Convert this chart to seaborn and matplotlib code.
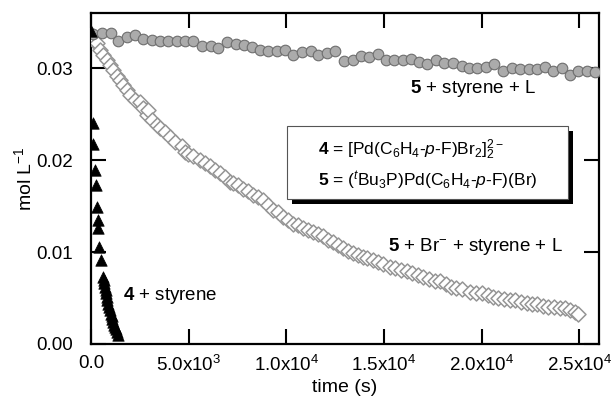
import matplotlib

matplotlib.use("Agg")
import matplotlib.pyplot as plt
import pandas as pd
import seaborn as sns
from matplotlib.patches import Rectangle

# 5 + styrene + L (grey circles)
circle_t = [120, 546, 1024, 1400, 1826, 2253, 2680, 3106, 3533, 3960, 4386, 4813, 5240,
            5666, 6144, 6520, 6946, 7407, 7851, 8226, 8653, 9080, 9506, 9933, 10360,
            10786, 11264, 11640, 12066, 12493, 12954, 13398, 13808, 14250, 14710, 15104,
            15514, 15958, 16368, 16810, 17219, 17664, 18074, 18518, 18978, 19371, 19780,
            20224, 20634, 21078, 21539, 21965, 22392, 22818, 23245, 23638, 24098, 24525,
            24950, 25378, 25805]
circle_c = [0.0337, 0.0338, 0.0338, 0.0330, 0.0334, 0.0336, 0.0332, 0.0331, 0.0330, 0.0330,
            0.0330, 0.0330, 0.0330, 0.0324, 0.0324, 0.0322, 0.0329, 0.0326, 0.0325, 0.0323,
            0.0320, 0.0319, 0.0319, 0.0320, 0.0314, 0.0318, 0.0319, 0.0314, 0.0316, 0.0319,
            0.0308, 0.0309, 0.0313, 0.0312, 0.0315, 0.0309, 0.0309, 0.0309, 0.0310, 0.0307,
            0.0304, 0.0309, 0.0306, 0.0306, 0.0302, 0.0300, 0.0300, 0.0301, 0.0305, 0.0297,
            0.0300, 0.0299, 0.0299, 0.0299, 0.0301, 0.0297, 0.0300, 0.0293, 0.0297, 0.0297,
            0.0296]

# 5 + Br- + styrene + L (open diamonds)
diamond_t = [0, 150, 292, 461, 630, 802, 973, 1142, 1316, 1485, 1654, 1828, 1997, 2253,
             2509, 2678, 2852, 2934, 3108, 3364, 3533, 3789, 4045, 4301, 4644, 4813, 4982,
             5238, 5581, 5837, 6093, 6349, 6605, 6861, 7117, 7288, 7544, 7800, 8056, 8312,
             8568, 8824, 9080, 9336, 9592, 9848, 10104, 10360, 10616, 10872, 11128, 11384,
             11640, 11896, 12152, 12408, 12664, 12920, 13176, 13400, 13650, 13900, 14150,
             14450, 14700, 14950, 15300, 15550, 15850, 16150, 16450, 16750, 17000, 17300,
             17600, 17850, 18150, 18450, 18700, 19000, 19400, 19700, 20000, 20300, 20600,
             20850, 21150, 21450, 21700, 22000, 22300, 22550, 22850, 23150, 23400, 23700,
             24000, 24250, 24500, 24750, 24950]
diamond_c = [0.0337, 0.0330, 0.0327, 0.0320, 0.0314, 0.0309, 0.0303, 0.0298, 0.0292, 0.0287,
             0.0282, 0.0276, 0.0271, 0.0265, 0.0263, 0.0257, 0.0249, 0.0254, 0.0244, 0.0238,
             0.0235, 0.0231, 0.0225, 0.0220, 0.0215, 0.0209, 0.0207, 0.0204, 0.0200, 0.0197,
             0.0194, 0.0189, 0.0186, 0.0182, 0.0176, 0.0175, 0.0173, 0.0169, 0.0166, 0.0162,
             0.0160, 0.0157, 0.0151, 0.0146, 0.0144, 0.0138, 0.0135, 0.0131, 0.0129, 0.0126,
             0.0124, 0.0122, 0.0120, 0.0117, 0.0113, 0.0111, 0.0108, 0.0104, 0.0101, 0.0099,
             0.0097, 0.0095, 0.0093, 0.0091, 0.0089, 0.0087, 0.0084, 0.0083, 0.0081, 0.0079,
             0.0077, 0.0075, 0.0073, 0.0071, 0.0069, 0.0068, 0.0065, 0.0062, 0.0061, 0.0060,
             0.0057, 0.0056, 0.0055, 0.0053, 0.0051, 0.0050, 0.0049, 0.0048, 0.0048, 0.0046,
             0.0045, 0.0044, 0.0043, 0.0041, 0.0040, 0.0040, 0.0039, 0.0039, 0.0037, 0.0035,
             0.0033]

# 4 + styrene (black triangles)
triangle_t = [0, 119, 119, 205, 240, 292, 343, 374, 410, 512, 630, 660, 681, 720, 753, 780,
              802, 840, 886, 930, 973, 1020, 1060, 1100, 1142, 1190, 1229, 1270, 1316, 1398]
triangle_c = [0.0340, 0.0240, 0.0218, 0.0189, 0.0173, 0.0149, 0.0135, 0.0126, 0.0106, 0.0091,
              0.0073, 0.0070, 0.0066, 0.0062, 0.0059, 0.0055, 0.0051, 0.0048, 0.0044, 0.0040,
              0.0037, 0.0033, 0.0030, 0.0027, 0.0024, 0.0021, 0.0019, 0.0016, 0.0013, 0.0010]

x_ticks = [0, 5000, 10000, 15000, 20000, 25000]
x_tick_labels = ["0.0", "5.0x10$^3$", "1.0x10$^4$", "1.5x10$^4$", "2.0x10$^4$", "2.5x10$^4$"]
y_ticks = [0.0, 0.01, 0.02, 0.03]

sns.set_style("ticks")
plt.rcParams["font.family"] = ["Liberation Sans", "DejaVu Sans"]
plt.rcParams["mathtext.fontset"] = "custom"
plt.rcParams["mathtext.rm"] = "Liberation Sans"
plt.rcParams["mathtext.it"] = "Liberation Sans:italic"
plt.rcParams["mathtext.bf"] = "Liberation Sans:bold"
plt.rcParams["text.color"] = "black"
plt.rcParams["axes.labelcolor"] = "black"

circles = pd.DataFrame({"t": circle_t, "c": circle_c})
diamonds = pd.DataFrame({"t": diamond_t, "c": diamond_c})
triangles = pd.DataFrame({"t": triangle_t, "c": triangle_c})

fig = plt.figure(figsize=(6.12, 4.0), dpi=100)
ax = fig.add_axes([91 / 612, 1 - 344 / 400, 508 / 612, 331 / 400])

sns.scatterplot(data=diamonds, x="t", y="c", marker="D", s=58, facecolor="white",
                edgecolor="#959595", linewidth=1.1, ax=ax, zorder=3)
sns.scatterplot(data=circles, x="t", y="c", marker="o", s=58, color="#ababab",
                edgecolor="#6e6e6e", linewidth=0.8, ax=ax, zorder=4)
sns.scatterplot(data=triangles, x="t", y="c", marker="^", s=68, color="black",
                edgecolor="black", linewidth=0.5, ax=ax, zorder=5)

ax.set_xlim(0, 26000)
ax.set_ylim(0, 0.036)
ax.set_xticks(x_ticks)
ax.set_xticklabels(x_tick_labels)
ax.set_yticks(y_ticks)
ax.set_yticklabels([f"{v:.2f}" for v in y_ticks])
ax.tick_params(direction="in", length=11, width=1.5, top=True, right=True,
               labelsize=13.5, colors="black")
ax.tick_params(axis="x", pad=8)
ax.tick_params(axis="y", pad=13)
for sp in ax.spines.values():
    sp.set_linewidth(1.6)
    sp.set_color("black")
    sp.set_visible(True)

ax.set_xlabel("time (s)", fontsize=14, labelpad=3)
ax.set_ylabel("mol L$^{-1}$", fontsize=14, labelpad=1)

ax.text(16330, 0.0278, r"$\mathbf{5}$ + styrene + L", fontsize=13.5, va="center", zorder=6)
ax.text(15206, 0.0106, r"$\mathbf{5}$ + Br$^{-}$ + styrene + L", fontsize=13.5, va="center", zorder=6)
ax.text(1638, 0.0053, r"$\mathbf{4}$ + styrene", fontsize=13.5, va="center", zorder=6)

# boxed key with drop shadow
shadow = Rectangle((292 / 612, 1 - 204 / 400), 281 / 612, 73 / 400, transform=fig.transFigure,
                   facecolor="black", edgecolor="none", zorder=10)
box = Rectangle((287 / 612, 1 - 199 / 400), 281 / 612, 73 / 400, transform=fig.transFigure,
                facecolor="white", edgecolor="#555555", linewidth=0.8, zorder=11)
fig.patches.extend([shadow, box])
fig.text(318 / 612, 1 - 150 / 400, r"$\mathbf{4}$ = [Pd(C$_6$H$_4$-$\mathit{p}$-F)Br$_2$]$_2^{2-}$",
         fontsize=12.5, va="center", zorder=12)
fig.text(318 / 612, 1 - 181 / 400, r"$\mathbf{5}$ = ($^t$Bu$_3$P)Pd(C$_6$H$_4$-$\mathit{p}$-F)(Br)",
         fontsize=12.5, va="center", zorder=12)

fig.savefig("out.png", dpi=100)
